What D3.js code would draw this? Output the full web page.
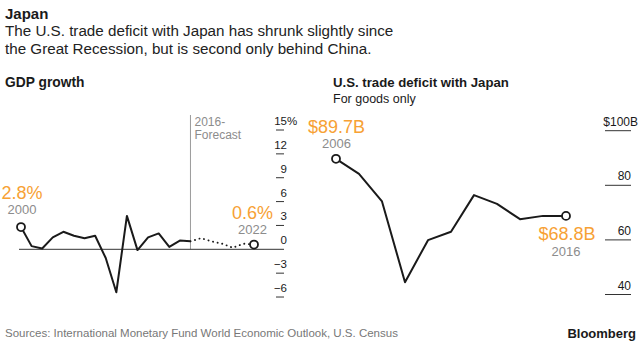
<!DOCTYPE html>
<html><head><meta charset="utf-8">
<script src="https://cdn.jsdelivr.net/npm/d3@7"></script>
<style>
html,body{margin:0;padding:0;background:#fff;}
svg{display:block;font-family:"Liberation Sans",Arial,sans-serif;}
</style></head>
<body>
<svg id="chart" width="640" height="346"></svg>
<script>
// GDP growth, Japan (%)
const gdpYears = [2000,2001,2002,2003,2004,2005,2006,2007,2008,2009,2010,2011,2012,2013,2014,2015,2016];
const gdpValues = [2.8,0.4,0.1,1.5,2.2,1.7,1.4,1.7,-1.1,-5.4,4.2,-0.1,1.5,2.0,0.3,1.1,1.0];
const forecastYears = [2016,2017,2018,2019,2020,2021,2022];
const forecastValues = [1.0,1.4,1.0,0.7,0.2,0.7,0.6];
const gdpTicks = [-6,-3,0,3,6,9,12,15];

// U.S. trade deficit with Japan ($B, goods only)
const tradeYears = [2006,2007,2008,2009,2010,2011,2012,2013,2014,2015,2016];
const tradeValues = [89.7,84.2,74.1,44.5,59.9,63.0,76.4,73.2,67.6,68.8,68.8];
const tradeTicks = [40,60,80,100];

const svg = d3.select("#chart");
const ORANGE = "#f7a134", GRAY = "#8c8c8c", INK = "#1a1a1a";

// Header
svg.append("text").attr("x",5).attr("y",19).attr("font-size",15).attr("font-weight","bold").attr("fill",INK).text("Japan");
svg.append("text").attr("x",5).attr("y",36).attr("font-size",15.2).attr("fill","#222").text("The U.S. trade deficit with Japan has shrunk slightly since");
svg.append("text").attr("x",5).attr("y",54).attr("font-size",15.2).attr("fill","#222").text("the Great Recession, but is second only behind China.");

// Left panel
svg.append("text").attr("x",5).attr("y",87).attr("font-size",13.8).attr("font-weight","bold").attr("fill",INK).text("GDP growth");

const xL = d3.scaleLinear().domain([2000,2022]).range([21,254]);
const yL = d3.scaleLinear().domain([0,15]).range([249.3,130]);

// forecast divider
svg.append("line").attr("x1",xL(2016)).attr("x2",xL(2016)).attr("y1",115).attr("y2",yL(0))
  .attr("stroke","#9a9a9a").attr("stroke-width",1);
svg.append("text").attr("x",xL(2016)+4).attr("y",126).attr("font-size",12).attr("fill",GRAY).text("2016-");
svg.append("text").attr("x",xL(2016)+4).attr("y",138.5).attr("font-size",12).attr("fill",GRAY).text("Forecast");

// zero line
svg.append("line").attr("x1",19).attr("x2",284).attr("y1",yL(0)).attr("y2",yL(0)).attr("stroke","#333").attr("stroke-width",1);

// y axis (left)
const gL = svg.append("g");
gL.selectAll("line.t").data(gdpTicks.filter(d=>d!==0)).join("line")
  .attr("x1",276).attr("x2",284).attr("y1",d=>yL(d)).attr("y2",d=>yL(d))
  .attr("stroke","#333").attr("stroke-width",1);
gL.selectAll("text.t").data(gdpTicks).join("text")
  .attr("x",287).attr("y",d=>yL(d)-5).attr("text-anchor","end")
  .attr("font-size",11.5).attr("fill",INK)
  .text(d=> d<0 ? "\u2212"+Math.abs(d) : d);
gL.append("text").attr("x",287).attr("y",yL(15)-5).attr("font-size",11.5).attr("fill",INK).text("%");

const lineL = d3.line().x(d=>xL(d[0])).y(d=>yL(d[1]));
svg.append("path").datum(d3.zip(gdpYears,gdpValues)).attr("d",lineL)
  .attr("fill","none").attr("stroke",INK).attr("stroke-width",2).attr("stroke-linejoin","round");
svg.append("path").datum(d3.zip(forecastYears,forecastValues)).attr("d",lineL)
  .attr("fill","none").attr("stroke",INK).attr("stroke-width",1.9).attr("stroke-dasharray","0.1,4.6").attr("stroke-linecap","round");

function endpoint(x,y){
  svg.append("circle").attr("cx",x).attr("cy",y).attr("r",4).attr("fill","#fff").attr("stroke",INK).attr("stroke-width",1.8);
}
endpoint(xL(2000),yL(gdpValues[0]));
endpoint(xL(2022),yL(forecastValues[forecastValues.length-1]));

svg.append("text").attr("x",xL(2000)+1).attr("y",yL(gdpValues[0])-28).attr("text-anchor","middle").attr("font-size",18).attr("fill",ORANGE).text(gdpValues[0].toFixed(1)+"%");
svg.append("text").attr("x",xL(2000)+1).attr("y",yL(gdpValues[0])-13).attr("text-anchor","middle").attr("font-size",13).attr("fill",GRAY).text("2000");
const lf = forecastValues[forecastValues.length-1];
svg.append("text").attr("x",xL(2022)-1.5).attr("y",yL(lf)-26).attr("text-anchor","middle").attr("font-size",18).attr("fill",ORANGE).text(lf.toFixed(1)+"%");
svg.append("text").attr("x",xL(2022)-1.5).attr("y",yL(lf)-11).attr("text-anchor","middle").attr("font-size",13).attr("fill",GRAY).text("2022");

// Right panel
svg.append("text").attr("x",333).attr("y",87).attr("font-size",13.2).attr("font-weight","bold").attr("fill",INK).text("U.S. trade deficit with Japan");
svg.append("text").attr("x",333).attr("y",103).attr("font-size",12.5).attr("fill",INK).text("For goods only");

const xR = d3.scaleLinear().domain([2006,2016]).range([336,566]);
const yR = d3.scaleLinear().domain([40,100]).range([294.5,130.7]);

const gR = svg.append("g");
gR.selectAll("line").data(tradeTicks).join("line")
  .attr("x1",605).attr("x2",631).attr("y1",d=>yR(d)).attr("y2",d=>yR(d))
  .attr("stroke","#333").attr("stroke-width",1);
gR.selectAll("text").data(tradeTicks).join("text")
  .attr("x",d=> d===100 ? 638 : 631).attr("y",d=>yR(d)-5).attr("text-anchor","end")
  .attr("font-size",12).attr("fill",INK)
  .text(d=> d===100 ? "$100B" : d);

const lineR = d3.line().x((d,i)=>xR(tradeYears[i])).y(d=>yR(d));
svg.append("path").datum(tradeValues).attr("d",lineR)
  .attr("fill","none").attr("stroke",INK).attr("stroke-width",2).attr("stroke-linejoin","round");
endpoint(xR(2006),yR(tradeValues[0]));
endpoint(xR(2016),yR(tradeValues[tradeValues.length-1]));

svg.append("text").attr("x",xR(2006)+0.5).attr("y",yR(tradeValues[0])-26).attr("text-anchor","middle").attr("font-size",18).attr("fill",ORANGE).text("$"+tradeValues[0].toFixed(1)+"B");
svg.append("text").attr("x",xR(2006)+0.5).attr("y",yR(tradeValues[0])-11).attr("text-anchor","middle").attr("font-size",13).attr("fill",GRAY).text("2006");
const lt = tradeValues[tradeValues.length-1];
svg.append("text").attr("x",xR(2016)+1).attr("y",yR(lt)+24).attr("text-anchor","middle").attr("font-size",18).attr("fill",ORANGE).text("$"+lt.toFixed(1)+"B");
svg.append("text").attr("x",xR(2016)).attr("y",yR(lt)+40).attr("text-anchor","middle").attr("font-size",13).attr("fill",GRAY).text("2016");

// Footer
svg.append("text").attr("x",5).attr("y",337).attr("font-size",11.5).attr("fill","#777").text("Sources: International Monetary Fund World Economic Outlook, U.S. Census");
svg.append("text").attr("x",636).attr("y",338).attr("text-anchor","end").attr("font-size",13).attr("font-weight","bold").attr("fill",INK).text("Bloomberg");
</script>
</body></html>
